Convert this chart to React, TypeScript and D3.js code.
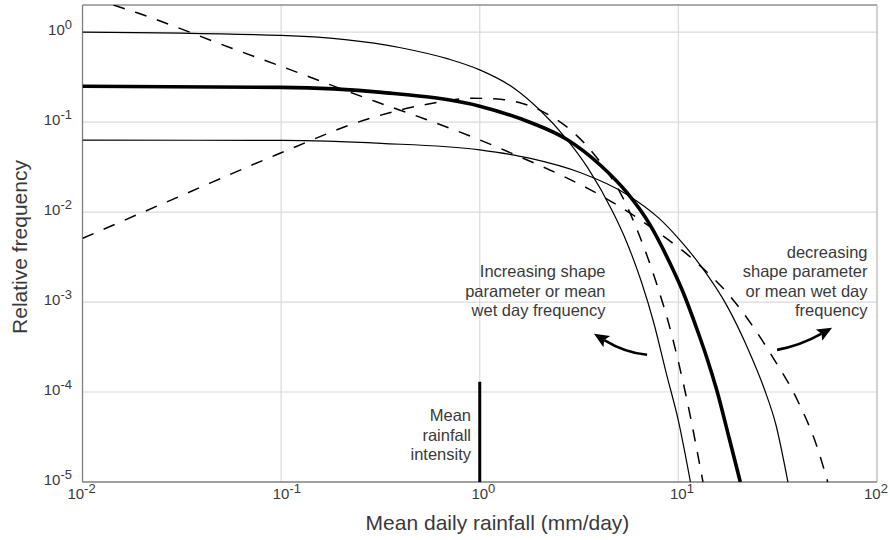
import React from "react";
import * as d3 from "d3";

const W = 890;
const H = 540;
const PLOT = { left: 82.5, right: 877, top: 5, bottom: 482 };

const X_DOMAIN: [number, number] = [0.01, 100];
const Y_DOMAIN: [number, number] = [1e-5, 2];
const X_TICK_EXP = [-2, -1, 0, 1, 2];
const Y_TICK_EXP = [0, -1, -2, -3, -4, -5];

// Thin solid: exponential, wet every day
const expHighX = [0.01, 0.1, 0.4, 0.7, 1, 1.5, 2, 2.75, 3.5, 4.7, 5.5, 6.5, 7.5, 8.7, 10, 11.5];
const expHighY = [1.0, 0.92, 0.67, 0.5, 0.38, 0.235, 0.137, 0.064, 0.031, 0.0098, 0.0046, 0.0017, 6.0e-4, 1.6e-4, 4.8e-5, 1.0e-5];

// Thick solid: reference distribution
const refX = [0.01, 0.1, 0.32, 1, 1.8, 2.75, 4, 5.5, 7.2, 9, 10.6, 12.4, 14, 15.6, 18, 20.5];
const refY = [0.25, 0.243, 0.214, 0.15, 0.099, 0.064, 0.034, 0.0165, 0.0072, 0.0028, 0.00126, 5.0e-4, 2.3e-4, 1.05e-4, 3.1e-5, 1.0e-5];

// Thin solid: exponential, fewer wet days
const expLowX = [0.01, 0.1, 0.32, 1, 1.8, 3.2, 5.5, 8, 10, 13, 17.6, 22, 27, 31, 35.6];
const expLowY = [0.063, 0.0625, 0.058, 0.049, 0.0395, 0.0275, 0.0157, 0.0085, 0.0051, 0.0025, 9.0e-4, 3.3e-4, 1.1e-4, 4.3e-5, 1.0e-5];

// Dashed: larger shape parameter (rising then falling)
const gammaHighX = [0.01, 0.0316, 0.094, 0.28, 0.52, 0.92, 1.3, 1.64, 2.2, 2.77, 3.42, 4.2, 5.0, 6.3, 7.7, 9.1, 11.0, 13.3];
const gammaHighY = [0.0051, 0.0153, 0.043, 0.11, 0.155, 0.184, 0.178, 0.161, 0.122, 0.087, 0.056, 0.032, 0.0178, 0.0058, 0.0017, 5.0e-4, 8.5e-5, 1.0e-5];

// Dashed: smaller shape parameter (decreasing)
const gammaLowX = [0.0143, 0.0185, 0.0564, 0.0976, 0.299, 0.525, 0.923, 1.6, 2.74, 3.57, 4.62, 7.69, 12.24, 18.4, 30.0, 40.1, 49.9, 56.5];
const gammaLowY = [2.0, 1.66, 0.662, 0.425, 0.169, 0.109, 0.068, 0.0409, 0.024, 0.0179, 0.013, 0.0062, 0.0028, 0.00113, 2.4e-4, 7.8e-5, 2.46e-5, 1.0e-5];

const MEAN_INTENSITY = 1;
const MEAN_BAR_TOP = 1.3e-4;

// Annotation arrows: [start, control, tip] in data units
const ARROW_LEFT: [number, number][] = [[6.96, 2.59e-4], [5.39, 2.73e-4], [3.76, 4.43e-4]];
const ARROW_RIGHT: [number, number][] = [[31.4, 2.94e-4], [41.0, 3.26e-4], [59.4, 5.17e-4]];

const LEFT_NOTE = ["Increasing shape", "parameter or mean", "wet day frequency"];
const RIGHT_NOTE = ["decreasing", "shape parameter", "or mean wet day", "frequency"];
const MEAN_NOTE = ["Mean", "rainfall", "intensity"];

const FONT = "'Liberation Sans', Arial, Helvetica, sans-serif";
const TEXT = "#3a3a3a";

function zip(xs: number[], ys: number[]): [number, number][] {
  return xs.map((v, i) => [v, ys[i]]);
}

export default function App() {
  const x = d3.scaleLog().domain(X_DOMAIN).range([PLOT.left, PLOT.right]);
  const y = d3.scaleLog().domain(Y_DOMAIN).range([PLOT.bottom, PLOT.top]);
  const line = d3
    .line<[number, number]>()
    .x((d) => x(d[0]))
    .y((d) => y(d[1]))
    .curve(d3.curveMonotoneX);

  const series = [
    { data: zip(expHighX, expHighY), w: 1.2, dash: undefined },
    { data: zip(expLowX, expLowY), w: 1.2, dash: undefined },
    { data: zip(gammaHighX, gammaHighY), w: 1.5, dash: "12,11" },
    { data: zip(gammaLowX, gammaLowY), w: 1.5, dash: "12,11" },
    { data: zip(refX, refY), w: 3.6, dash: undefined },
  ];

  const arrow = (pts: [number, number][], key: string) => {
    const [s, c, t] = pts.map((p) => [x(p[0]), y(p[1])]);
    const dx = t[0] - c[0];
    const dy = t[1] - c[1];
    const len = Math.hypot(dx, dy);
    const ux = dx / len;
    const uy = dy / len;
    const hl = 15;
    const hw = 6.5;
    const bx = t[0] - ux * hl;
    const by = t[1] - uy * hl;
    const ex = t[0] - ux * (hl - 3);
    const ey = t[1] - uy * (hl - 3);
    const head = `M${t[0]},${t[1]}L${bx - uy * hw},${by + ux * hw}L${bx + ux * 3},${by + uy * 3}L${bx + uy * hw},${by - ux * hw}Z`;
    return (
      <g key={key}>
        <path d={`M${s[0]},${s[1]}Q${c[0]},${c[1]} ${ex},${ey}`} fill="none" stroke="#000" strokeWidth={2.6} />
        <path d={head} fill="#000" />
      </g>
    );
  };

  const BASE_FS = 15;
  const SUP_FS = 13;

  const xLabel = (e: number) => {
    const sup = String(e);
    const baseW = 2 * 0.556 * BASE_FS;
    const supW = (sup.startsWith("-") ? 0.333 + 0.556 : 0.556) * SUP_FS;
    const px = x(Math.pow(10, e));
    let start = px - baseW / 2;
    if (e === X_TICK_EXP[0] || e === X_TICK_EXP[X_TICK_EXP.length - 1]) start = px - (baseW + supW) / 2 - 1;
    return (
      <text key={"xl" + e} x={start} y={499} fontSize={BASE_FS} fill={TEXT} fontFamily={FONT}>
        10
        <tspan fontSize={SUP_FS} dy={-6}>{sup}</tspan>
      </text>
    );
  };

  const yLabel = (e: number) => (
    <text key={"yl" + e} x={72} y={y(Math.pow(10, e)) + 2.5} fontSize={BASE_FS} fill={TEXT} fontFamily={FONT} textAnchor="end">
      10
      <tspan fontSize={SUP_FS} dy={-6}>{String(e)}</tspan>
    </text>
  );

  return (
    <svg width={W} height={H} style={{ position: "absolute", left: 0, top: 0, background: "#fff" }}>
      <defs>
        <clipPath id="plotclip">
          <rect x={PLOT.left} y={PLOT.top} width={PLOT.right - PLOT.left} height={PLOT.bottom - PLOT.top} />
        </clipPath>
      </defs>
      <rect x={0} y={0} width={W} height={H} fill="#fff" />
      {X_TICK_EXP.slice(1, -1).map((e) => (
        <line key={"gx" + e} x1={x(Math.pow(10, e))} x2={x(Math.pow(10, e))} y1={PLOT.top} y2={PLOT.bottom} stroke="#dadada" strokeWidth={1.2} />
      ))}
      {Y_TICK_EXP.slice(0, -1).map((e) => (
        <line key={"gy" + e} x1={PLOT.left} x2={PLOT.right} y1={y(Math.pow(10, e))} y2={y(Math.pow(10, e))} stroke="#dadada" strokeWidth={1.2} />
      ))}
      <line x1={PLOT.left} x2={PLOT.right} y1={PLOT.top} y2={PLOT.top} stroke="#8f8f8f" strokeWidth={1.3} />
      <line x1={PLOT.right} x2={PLOT.right} y1={PLOT.top} y2={PLOT.bottom} stroke="#b8b8b8" strokeWidth={1.3} />
      <line x1={PLOT.left} x2={PLOT.left} y1={PLOT.top} y2={PLOT.bottom} stroke="#808080" strokeWidth={1.3} />
      <line x1={PLOT.left} x2={PLOT.right} y1={PLOT.bottom} y2={PLOT.bottom} stroke="#808080" strokeWidth={1.3} />

      <g clipPath="url(#plotclip)">
        {series.map((s, i) => (
          <path key={"s" + i} d={line(s.data) || ""} fill="none" stroke="#000" strokeWidth={s.w} strokeDasharray={s.dash} />
        ))}
      </g>

      <line
        x1={x(MEAN_INTENSITY)}
        x2={x(MEAN_INTENSITY)}
        y1={y(Y_DOMAIN[0])}
        y2={y(MEAN_BAR_TOP)}
        stroke="#000"
        strokeWidth={3}
      />
      {MEAN_NOTE.map((t, i) => (
        <text key={"mn" + i} x={471} y={421 + i * 19.7} fontSize={16.5} fill={TEXT} fontFamily={FONT} textAnchor="end">
          {t}
        </text>
      ))}

      {LEFT_NOTE.map((t, i) => (
        <text key={"ln" + i} x={605.5} y={277 + i * 19.5} fontSize={16.5} fill={TEXT} fontFamily={FONT} textAnchor="end">
          {t}
        </text>
      ))}
      {RIGHT_NOTE.map((t, i) => (
        <text key={"rn" + i} x={867.5} y={257.5 + i * 19.6} fontSize={16.5} fill={TEXT} fontFamily={FONT} textAnchor="end">
          {t}
        </text>
      ))}
      {arrow(ARROW_LEFT, "al")}
      {arrow(ARROW_RIGHT, "ar")}

      {X_TICK_EXP.map(xLabel)}
      {Y_TICK_EXP.map(yLabel)}

      <text x={497.5} y={530} fontSize={21} fill={TEXT} fontFamily={FONT} textAnchor="middle">
        Mean daily rainfall (mm/day)
      </text>
      <text
        transform={`translate(26.5,247) rotate(-90)`}
        fontSize={21}
        fill={TEXT}
        fontFamily={FONT}
        textAnchor="middle"
      >
        Relative frequency
      </text>
    </svg>
  );
}
